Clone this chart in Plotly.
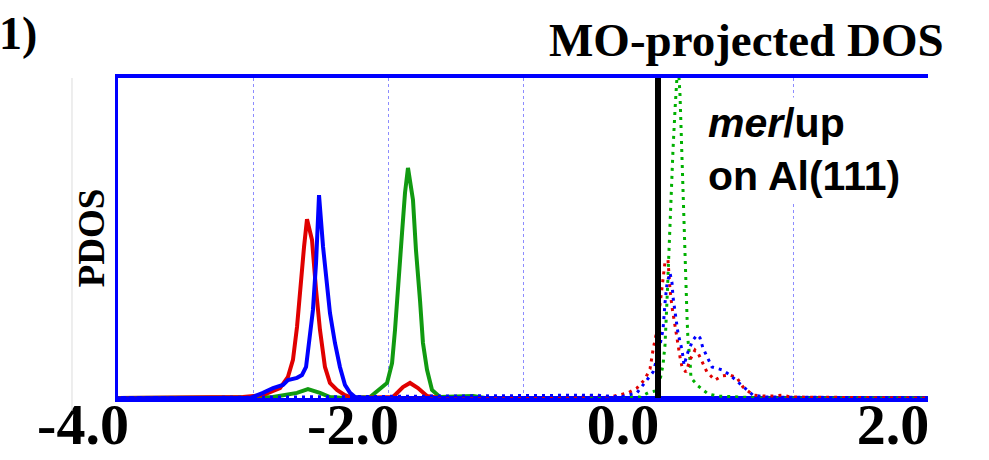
import plotly.graph_objects as go

# ---- data (energy in eV, PDOS in arbitrary units) ----
red_solid_x = [-4.0, -3.074, -2.926, -2.80, -2.741, -2.704, -2.674, -2.652, -2.622, -2.600,
               -2.563, -2.533, -2.504, -2.467, -2.430, -2.378, -2.319, -2.259,
               -1.963, -1.889, -1.837, -1.778, -1.711, -1.615, 2.0]
red_solid_y = [0.0, 0.03, 0.09, 0.31, 0.66, 1.19, 2.22, 3.38, 4.72, 5.59,
               4.94, 3.38, 2.13, 0.97, 0.47, 0.25, 0.09, 0.0,
               0.03, 0.34, 0.47, 0.31, 0.06, 0.0, 0.0]

blue_solid_x = [-4.0, -3.022, -2.926, -2.852, -2.778, -2.741, -2.674, -2.637, -2.607, -2.585,
                -2.556, -2.533, -2.511, -2.481, -2.452, -2.430, -2.393, -2.356, -2.319,
                -2.281, -2.244, -2.170, 2.0]
blue_solid_y = [0.0, 0.0, 0.16, 0.31, 0.41, 0.56, 0.63, 0.72, 0.97, 1.72,
                2.75, 4.22, 6.34, 4.72, 3.69, 2.66, 1.72, 0.97, 0.41,
                0.16, 0.03, 0.0, 0.0]

green_solid_x = [-4.0, -2.948, -2.852, -2.674, -2.593, -2.504, -2.430, -2.319, -2.133, -2.007,
                 -1.970, -1.948, -1.926, -1.896, -1.874, -1.852, -1.815, -1.793, -1.763,
                 -1.741, -1.711, -1.674, -1.615, -1.444, -1.370, -1.281, 2.0]
green_solid_y = [0.0, 0.0, 0.03, 0.16, 0.28, 0.16, 0.03, 0.0, 0.03, 0.47,
                 1.09, 2.13, 3.59, 5.16, 6.41, 7.19, 6.19, 4.63, 3.06,
                 1.72, 0.88, 0.25, 0.03, 0.03, 0.06, 0.0, 0.0]

red_dot_x = [-4.0, -0.948, -0.889, -0.726, -0.593, -0.519, -0.452, -0.356, -0.222, -0.156,
             -0.096, -0.059, -0.037, -0.007, 0.030, 0.052, 0.074, 0.089, 0.104, 0.126,
             0.148, 0.163, 0.178, 0.207, 0.237, 0.274, 0.296, 0.326, 0.363, 0.422,
             0.474, 0.533, 0.585, 0.630, 0.704, 0.778, 0.852, 0.926, 0.978, 2.0]
red_dot_y = [0.0, 0.0, 0.03, 0.0, 0.03, 0.06, 0.09, 0.03, 0.16, 0.31,
             0.59, 0.91, 1.50, 2.13, 3.38, 4.25, 4.31, 3.38, 2.84, 2.22,
             1.72, 1.28, 0.97, 0.81, 1.19, 1.50, 1.41, 1.13, 0.81, 0.56,
             0.69, 0.72, 0.63, 0.34, 0.09, 0.06, 0.06, 0.09, 0.03, 0.0]

blue_dot_x = [-4.0, -0.452, -0.370, -0.281, -0.156, -0.096, -0.037, 0.0, 0.037, 0.052,
              0.067, 0.089, 0.104, 0.111, 0.126, 0.148, 0.178, 0.193, 0.222, 0.259,
              0.289, 0.311, 0.333, 0.400, 0.474, 0.533, 0.593, 0.644, 0.704, 0.793, 2.0]
blue_dot_y = [0.0, 0.09, 0.06, 0.03, 0.16, 0.47, 0.81, 1.34, 2.13, 2.97,
              3.59, 3.91, 3.59, 3.16, 2.75, 2.03, 1.50, 1.03, 1.44, 1.81,
              1.97, 1.88, 1.56, 0.97, 0.88, 0.72, 0.50, 0.31, 0.09, 0.03, 0.0]

green_dot_x = [-4.0, -0.430, -0.133, -0.074, -0.022, 0.015, 0.037, 0.052, 0.067, 0.081,
               0.096, 0.111, 0.126, 0.148, 0.163, 0.178, 0.185, 0.200, 0.215, 0.222,
               0.237, 0.244, 0.296, 0.370, 0.444, 0.607, 0.756, 2.0]
green_dot_y = [0.0, 0.0, 0.03, 0.16, 0.22, 0.56, 1.03, 1.66, 3.06, 4.63,
               6.03, 7.75, 9.00, 10.56, 9.47, 7.44, 5.88, 4.00, 2.53, 1.81,
               1.19, 0.63, 0.38, 0.13, 0.06, 0.03, 0.0, 0.0]

fermi_x = [0.0, 0.0]
fermi_y = [0.0, 10.0]

tick_vals = [-4.0, -3.0, -2.0, -1.0, 0.0, 1.0, 2.0]
tick_text = ["-4.0", "", "-2.0", "", "0.0", "", "2.0"]

RED = "#e00000"
BLUE = "#0000ff"
GREEN = "#119a11"
GREEN_DOT = "#00b000"
GRID = "#8c8cff"

fig = go.Figure()
fig.add_trace(go.Scatter(x=green_solid_x, y=green_solid_y, mode="lines",
                         line=dict(color=GREEN, width=4)))
fig.add_trace(go.Scatter(x=red_solid_x, y=red_solid_y, mode="lines",
                         line=dict(color=RED, width=4)))
fig.add_trace(go.Scatter(x=blue_solid_x, y=blue_solid_y, mode="lines",
                         line=dict(color=BLUE, width=4)))
fig.add_trace(go.Scatter(x=green_dot_x, y=green_dot_y, mode="lines",
                         line=dict(color=GREEN_DOT, width=3, dash="3px,5px")))
fig.add_trace(go.Scatter(x=red_dot_x, y=red_dot_y, mode="lines",
                         line=dict(color=RED, width=3, dash="3px,5px")))
fig.add_trace(go.Scatter(x=blue_dot_x, y=blue_dot_y, mode="lines",
                         line=dict(color=BLUE, width=3, dash="3px,5px")))
fig.add_trace(go.Scatter(x=fermi_x, y=fermi_y, mode="lines",
                         line=dict(color="black", width=6)))

fig.update_layout(
    width=989, height=460,
    margin=dict(l=118, r=61, t=78, b=62),
    paper_bgcolor="white", plot_bgcolor="white",
    showlegend=False,
    xaxis=dict(
        range=[-4.0, 2.0], automargin=False,
        tickvals=tick_vals, ticktext=tick_text,
        ticks="", ticklabelshift=-35, ticklabelstandoff=-28,
        tickfont=dict(family="Liberation Serif", size=58, color="black", weight="bold"),
        showgrid=True, gridcolor=GRID, griddash="dot", gridwidth=1,
        zeroline=False,
        showline=True, linecolor=BLUE, linewidth=4, mirror=True,
    ),
    yaxis=dict(
        range=[0, 10], automargin=False,
        showticklabels=False, ticks="",
        showgrid=False, zeroline=False,
        showline=True, linecolor=BLUE, linewidth=3, mirror=False,
        title=dict(text="<b>PDOS</b>", standoff=0,
                   font=dict(family="Liberation Serif", size=37, color="black")),
    ),
)

fig.add_annotation(
    text="<b>MO-projected DOS</b>", xref="paper", yref="paper",
    x=1.022, y=1.119, xanchor="right", yanchor="middle", showarrow=False,
    font=dict(family="Liberation Serif", size=47, color="black"),
)
fig.add_annotation(
    text="<b>1)</b>", xref="paper", yref="paper",
    x=-0.0975, y=1.14, xanchor="right", yanchor="middle", showarrow=False,
    font=dict(family="Liberation Serif", size=46, color="black"),
)
fig.add_annotation(
    text="<b><i>mer</i>/up</b><br><b>on Al(111)</b>", xref="paper", yref="paper",
    x=0.7247, y=0.94, xanchor="left", yanchor="top", align="left", showarrow=False,
    bgcolor="white", borderpad=2,
    font=dict(family="Liberation Sans", size=41, color="black"),
)
fig.add_shape(type="line", xref="paper", yref="paper",
              x0=-0.0568, x1=-0.0568, y0=-0.04, y1=1.0,
              line=dict(color="#dddddd", width=1))

fig.write_html("out.html", post_script="document.body.style.margin='0';",
               config={"displayModeBar": False})
